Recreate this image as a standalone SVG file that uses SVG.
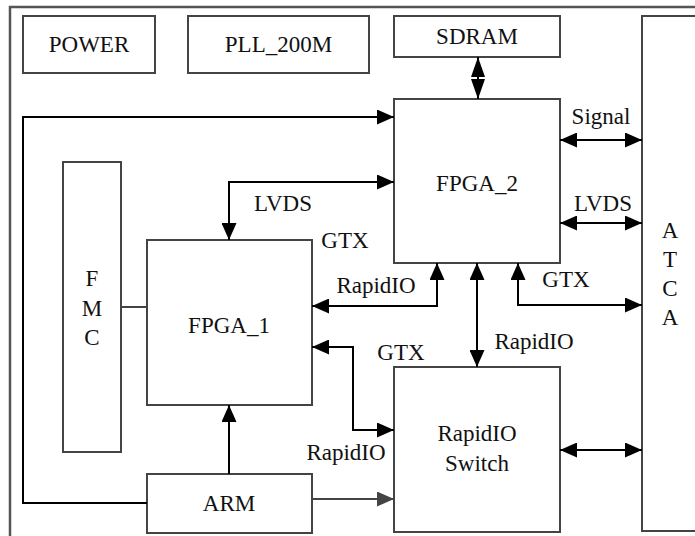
<svg xmlns="http://www.w3.org/2000/svg" width="695" height="536" viewBox="0 0 695 536">
<style>
.box{fill:#fff;stroke:#444;stroke-width:2}
.frame{fill:none;stroke:#555;stroke-width:2.5}
.t{font-family:'Liberation Serif','Times New Roman',serif;font-size:23px;fill:#111;text-anchor:middle}
.c{fill:none;stroke:#000;stroke-width:2}
.g{fill:none;stroke:#444;stroke-width:2}
</style>
<defs>
<marker id="a" viewBox="0 0 17 15" refX="17" refY="7.5" markerWidth="17" markerHeight="15" markerUnits="userSpaceOnUse" orient="auto-start-reverse"><path d="M0,0 L17,7.5 L0,15 z" fill="#000"/></marker>
<marker id="ag" viewBox="0 0 17 15" refX="17" refY="7.5" markerWidth="17" markerHeight="15" markerUnits="userSpaceOnUse" orient="auto-start-reverse"><path d="M0,0 L17,7.5 L0,15 z" fill="#444"/></marker>
<marker id="s" viewBox="0 0 20 14" refX="20" refY="7" markerWidth="20" markerHeight="14" markerUnits="userSpaceOnUse" orient="auto-start-reverse"><path d="M0,0 L20,7 L0,14 z" fill="#000"/></marker>
</defs>
<path class="frame" d="M695,7 H10 V536"/>
<g id="power"><rect class="box" x="23" y="16" width="132" height="57"/><text class="t" x="89" y="52">POWER</text></g>
<g id="pll"><rect class="box" x="188" y="16" width="181" height="57"/><text class="t" x="278.5" y="52">PLL_200M</text></g>
<g id="sdram"><rect class="box" x="394" y="16" width="166" height="41"/><text class="t" x="477" y="44">SDRAM</text></g>
<g id="fpga2"><rect class="box" x="394" y="99" width="166" height="164"/><text class="t" x="477" y="191">FPGA_2</text></g>
<g id="fmc"><rect class="box" x="63" y="162" width="58" height="290"/><text class="t" x="92" y="286">F</text><text class="t" x="92" y="316">M</text><text class="t" x="92" y="345">C</text></g>
<g id="fpga1"><rect class="box" x="147" y="240" width="165" height="165"/><text class="t" x="229" y="333">FPGA_1</text></g>
<g id="arm"><rect class="box" x="147" y="474" width="165" height="59"/><text class="t" x="229" y="511">ARM</text></g>
<g id="switch"><rect class="box" x="394" y="367" width="166" height="165"/><text class="t" x="477" y="441">RapidIO</text><text class="t" x="477" y="471">Switch</text></g>
<g id="atca"><path class="box" d="M697,16 H642 V531 H697"/><text class="t" x="670" y="238">A</text><text class="t" x="670" y="267">T</text><text class="t" x="670" y="296">C</text><text class="t" x="670" y="325">A</text></g>
<g id="connectors">
<path class="g" d="M121,307 H147"/>
<path class="c" d="M478,57 V99" marker-start="url(#s)" marker-end="url(#s)"/>
<path class="c" d="M147,503 H23 V117 H394" marker-end="url(#a)"/>
<path class="c" d="M229,474 V405" marker-end="url(#a)"/>
<path class="g" d="M312,499 H394" marker-end="url(#ag)"/>
<path class="c" d="M229,240 V182 H394" marker-start="url(#a)" marker-end="url(#a)"/>
<path class="c" d="M312,306 H437 V263" marker-start="url(#a)" marker-end="url(#a)"/>
<path class="c" d="M312,347 H353 V430 H394" marker-start="url(#a)" marker-end="url(#a)"/>
<path class="c" d="M477,263 V367" marker-start="url(#a)" marker-end="url(#a)"/>
<path class="c" d="M518,263 V305 H642" marker-start="url(#a)" marker-end="url(#a)"/>
<path class="c" d="M560,140 H642" marker-start="url(#a)" marker-end="url(#a)"/>
<path class="c" d="M560,223 H642" marker-start="url(#a)" marker-end="url(#a)"/>
<path class="c" d="M560,450 H642" marker-start="url(#a)" marker-end="url(#a)"/>
</g>
<g id="labels">
<text class="t" x="601" y="124">Signal</text>
<text class="t" x="603" y="211">LVDS</text>
<text class="t" x="283" y="211">LVDS</text>
<text class="t" x="345" y="248">GTX</text>
<text class="t" x="376" y="293">RapidIO</text>
<text class="t" x="566" y="287">GTX</text>
<text class="t" x="534" y="349">RapidIO</text>
<text class="t" x="401" y="360">GTX</text>
<text class="t" x="346" y="460">RapidIO</text>
</g>
</svg>
